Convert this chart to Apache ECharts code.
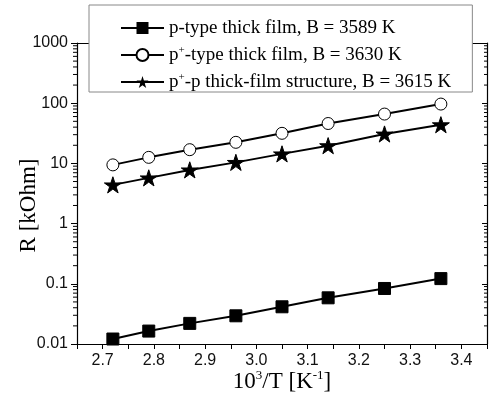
<!DOCTYPE html>
<html>
<head>
<meta charset="utf-8">
<script src="https://cdn.jsdelivr.net/npm/echarts@6/dist/echarts.min.js"></script>
<style>
html,body{margin:0;padding:0;background:#fff;}
#chart{width:490px;height:403px;}
</style>
</head>
<body>
<div id="chart"></div>
<script>
// ---- data ----
var xValues = [2.72, 2.79, 2.87, 2.96, 3.05, 3.14, 3.25, 3.36];
var pTypeValues = [0.0121, 0.0164, 0.0220, 0.0294, 0.0415, 0.0585, 0.0836, 0.122];
var pPlusTypeValues = [9.45, 12.6, 16.9, 22.4, 31.6, 46.0, 66.0, 96.7];
var structureValues = [4.4, 5.75, 7.8, 10.4, 14.4, 19.7, 30.8, 43.9];
var seriesNames = ['p-type thick film, B = 3589 K', 'p+-type thick film, B = 3630 K', 'p+-p thick-film structure, B = 3615 K'];
var legendLabels = ['p-type thick film, B = 3589 K', 'p{s|+}-type thick film, B = 3630 K', 'p{s|+}-p thick-film structure, B = 3615 K'];
var xTickLabels = ['2.7', '2.8', '2.9', '3.0', '3.1', '3.2', '3.3', '3.4'];
var yTickLabels = ['0.01', '0.1', '1', '10', '100', '1000'];
var xMin = 2.65, xMax = 3.45, yMin = 0.01, yMax = 1000;

var minorTickValues = [];
for (var k = -2; k <= 2; k++) {
  for (var m = 2; m <= 9; m++) minorTickValues.push(m * Math.pow(10, k));
}

function pairs(ys) { return xValues.map(function (x, i) { return [x, ys[i]]; }); }

var starPath = 'path://M50,0L61.17,34.63L97.55,34.55L68.07,55.87L79.39,90.45L50,69L20.61,90.45L31.93,55.87L2.45,34.55L38.83,34.63Z';
var serif = '"Liberation Serif","Times New Roman",serif';
var sans = '"Liberation Sans",Arial,sans-serif';

var chart = echarts.init(document.getElementById('chart'));
var lineStyle = { color: '#000', width: 2 };
chart.setOption({
  animation: false,
  backgroundColor: '#fff',
  grid: { left: 77, right: 3, top: 43, bottom: 59, containLabel: false, outerBoundsMode: 'none' },
  legend: {
    data: seriesNames,
    orient: 'vertical',
    left: 89, top: 5,
    padding: [13, 21, 0, 31],
    itemWidth: 43, itemHeight: 15,
    itemGap: 7,
    backgroundColor: '#fff',
    borderColor: '#888', borderWidth: 1,
    formatter: function (name) { return legendLabels[seriesNames.indexOf(name)]; },
    textStyle: {
      fontFamily: serif, fontSize: 19, color: '#000', lineHeight: 20,
      rich: { s: { fontFamily: serif, fontSize: 11, lineHeight: 11, verticalAlign: 'top', color: '#000' } }
    }
  },
  xAxis: [{
    type: 'value', min: xMin, max: xMax, interval: 0.05, position: 'bottom',
    name: '10{s|3}/T [K{s|-1}]', nameLocation: 'middle', nameGap: 25, nameMoveOverlap: false,
    nameTextStyle: {
      fontFamily: serif, fontSize: 23, color: '#000', lineHeight: 26,
      rich: { s: { fontFamily: serif, fontSize: 13, lineHeight: 13, verticalAlign: 'top', color: '#000' } }
    },
    axisLine: { show: true, onZero: false, lineStyle: { color: '#000', width: 1.2 } },
    axisTick: { show: true, inside: false, length: 5, lineStyle: { color: '#000' } },
    axisLabel: {
      fontFamily: sans, fontSize: 16, color: '#111', margin: 9,
      formatter: function (v) {
        var t = v.toFixed(1);
        return (Math.abs(v - parseFloat(t)) < 1e-6 && xTickLabels.indexOf(t) >= 0) ? t : '';
      }
    },
    splitLine: { show: false }
  }, {
    type: 'value', min: xMin, max: xMax, position: 'top',
    axisLine: { show: true, onZero: false, lineStyle: { color: '#000', width: 1.2 } },
    axisTick: { show: false }, axisLabel: { show: false }, splitLine: { show: false }
  }],
  yAxis: [{
    type: 'log', logBase: 10, min: yMin, max: yMax, position: 'left',
    name: 'R [kOhm]', nameLocation: 'middle', nameGap: 37, nameRotate: 90, nameMoveOverlap: false,
    nameTextStyle: { fontFamily: serif, fontSize: 23, color: '#000', padding: [0, 24, 0, 0] },
    axisLine: { show: true, onZero: false, lineStyle: { color: '#000', width: 1.2 } },
    axisTick: { show: true, inside: false, length: 6, lineStyle: { color: '#000' } },
    axisLabel: {
      fontFamily: sans, fontSize: 16, color: '#111', margin: 9,
      formatter: function (v) {
        var e = Math.round(Math.log10(v));
        return yTickLabels[e + 2] || '';
      }
    },
    splitLine: { show: false }
  }, {
    type: 'log', logBase: 10, min: yMin, max: yMax, position: 'right',
    axisLine: { show: true, onZero: false, lineStyle: { color: '#000', width: 1.2 } },
    axisTick: { show: true, inside: true, length: 5, lineStyle: { color: '#000' } },
    axisLabel: { show: false }, splitLine: { show: false }
  }],
  series: [{
    name: seriesNames[0], type: 'line', data: pairs(pTypeValues),
    symbol: 'rect', symbolSize: 12, lineStyle: lineStyle,
    itemStyle: { color: '#000', borderColor: '#000' }, z: 3
  }, {
    name: seriesNames[1], type: 'line', data: pairs(pPlusTypeValues),
    symbol: 'circle', symbolSize: 12, lineStyle: lineStyle,
    itemStyle: { color: '#fff', borderColor: '#000', borderWidth: 1 }, z: 3
  }, {
    name: seriesNames[2], type: 'line', data: pairs(structureValues),
    symbol: starPath, symbolKeepAspect: true, symbolSize: 17, lineStyle: lineStyle,
    itemStyle: { color: '#000', borderColor: '#000' }, z: 3
  }, {
    name: 'minorTicks', type: 'custom', silent: true, clip: false, z: 2,
    data: minorTickValues.map(function (v) { return [xMin, v]; }),
    encode: { x: 0, y: 1 },
    renderItem: function (params, api) {
      var v = api.value(1);
      var pl = api.coord([xMin, v]);
      var pr = api.coord([xMax, v]);
      var st = { stroke: '#000', lineWidth: 1 };
      return { type: 'group', children: [
        { type: 'line', shape: { x1: pl[0] - 4, y1: pl[1], x2: pl[0], y2: pl[1] }, style: st },
        { type: 'line', shape: { x1: pr[0] - 3, y1: pr[1], x2: pr[0], y2: pr[1] }, style: st }
      ] };
    }
  }]
});
</script>
</body>
</html>
